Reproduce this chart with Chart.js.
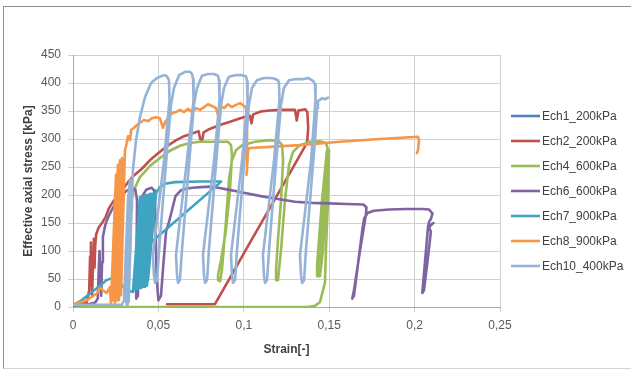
<!DOCTYPE html>
<html>
<head>
<meta charset="utf-8">
<script src="https://cdn.jsdelivr.net/npm/chart.js@4.4.1/dist/chart.umd.min.js"></script>
<style>
  html, body { margin: 0; padding: 0; background: #ffffff; }
  #wrap { position: relative; width: 631px; height: 372px; }
  #frame { position: absolute; left: 3px; top: 6px; width: 630px; height: 363px;
           border-left: 1px solid #8f8f8f; border-top: 1px solid #8f8f8f; border-bottom: 1px solid #d4d4d4;
           box-sizing: border-box; pointer-events: none; }
  canvas { position: absolute; left: 0; top: 0; }
</style>
</head>
<body>
<div id="wrap">
  <canvas id="c" width="631" height="372"></canvas>
  <div id="frame"></div>
</div>
<script>
// ---------- data (strain [-], effective axial stress [kPa]) ----------
const seriesNames = ['Ech1_200kPa', 'Ech2_200kPa', 'Ech4_600kPa', 'Ech6_600kPa', 'Ech7_900kPa', 'Ech8_900kPa', 'Ech10_400kPa'];

const xTickValues = [0, 0.05, 0.1, 0.15, 0.2, 0.25];
const xTickLabels = ['0', '0,05', '0,1', '0,15', '0,2', '0,25'];
const yTickValues = [0, 50, 100, 150, 200, 250, 300, 350, 400, 450];

const ech1 = [[0,4],[0.004,5],[0.008,7]];

const ech2 = [[0,5],[0.004,6],[0.008,8],[0.0095,30],[0.0100,90],[0.0105,115],[0.0110,60],[0.0112,20],[0.0118,90],
  [0.0122,122],[0.0126,70],[0.0130,110],[0.0136,130],[0.0150,142],[0.0170,150],[0.0190,160],[0.0210,176],[0.0230,186],
  [0.0260,198],[0.0290,210],[0.0320,222],[0.0350,233],[0.0400,246],[0.0450,262],[0.0500,275],[0.0550,287],[0.0600,297],
  [0.0650,305],[0.0700,310],[0.0735,314],[0.0745,300],[0.0755,296],[0.0765,312],[0.0800,318],[0.0860,325],[0.0920,331],
  [0.0980,337],[0.1035,342],[0.1045,328],[0.1055,344],[0.1100,349],[0.1150,351],[0.1210,352],[0.1250,352],[0.1300,352],
  [0.1310,333],[0.1320,351],[0.1360,353],[0.1372,348],[0.1377,320],[0.1372,298],[0.1364,290],[0.1271,240],[0.1153,177],
  [0.1036,115],[0.0919,52],[0.0831,5],[0.0550,5]];

const ech4 = [[0,0],[0.0316,0],[0.0322,12],[0.0334,102],[0.0340,173],[0.0345,195],[0.0357,209],[0.0375,221],[0.0392,232],
  [0.0451,252],[0.0509,266],[0.0568,279],[0.0626,288],[0.0685,293],[0.0744,295],[0.0831,295],[0.0908,295],[0.0925,289],
  [0.0931,271],[0.0919,209],[0.0896,138],[0.0867,84],[0.0849,57],[0.0849,48],[0.0861,46],[0.0872,66],[0.0896,155],
  [0.0913,227],[0.0931,262],[0.0954,280],[0.0990,289],[0.1066,295],[0.1153,298],[0.1206,296],[0.1224,289],[0.1230,262],
  [0.1218,191],[0.1200,120],[0.1189,66],[0.1189,48],[0.1200,48],[0.1218,102],[0.1241,191],[0.1265,254],[0.1288,277],
  [0.1329,289],[0.1388,295],[0.1446,296],[0.1481,293],[0.1493,280],[0.1487,227],[0.1464,102],[0.1446,55],[0.1434,62],
  [0.1458,137],[0.1487,262],[0.1493,280],[0.1481,227],[0.1452,84],[0.1440,55],[0.1429,66],[0.1452,155],[0.1481,254],
  [0.1493,271],[0.1475,191],[0.1446,66],[0.1434,55],[0.1429,75],[0.1458,191],[0.1487,280],[0.1499,280],[0.1493,191],
  [0.1481,102],[0.1475,43],[0.1446,9],[0.1417,2],[0.1376,0],[0.0316,0]];

const ech6 = [[0,3],[0.008,4],[0.013,8],[0.0145,15],[0.0150,60],[0.0155,100],[0.0160,55],[0.0165,20],[0.0170,80],
  [0.0175,125],[0.0190,148],[0.0210,163],[0.0230,175],[0.0250,185],[0.0270,193],[0.0285,198],[0.0310,207],[0.0340,212],
  [0.0365,210],[0.0375,190],[0.0372,100],[0.0370,15],[0.0380,20],[0.0385,100],[0.0390,170],[0.0410,200],[0.0430,210],
  [0.0460,213],[0.0475,208],[0.0480,190],[0.0485,120],[0.0490,50],[0.0500,12],[0.0515,20],[0.0530,80],[0.0545,135],
  [0.0565,155],[0.0585,180],[0.0600,198],[0.0630,208],[0.0660,211],[0.0700,213],[0.0750,214],[0.0800,215],[0.0850,213],
  [0.0900,210],[0.0950,207],[0.1000,204],[0.1100,198],[0.1200,193],[0.1300,188],[0.1400,186],[0.1500,185],[0.1600,184],
  [0.1700,183],[0.1718,178],[0.1715,165],[0.1680,100],[0.1645,30],[0.1635,15],[0.1645,20],[0.1670,80],[0.1695,140],
  [0.1705,158],[0.1725,168],[0.1760,172],[0.1850,174],[0.1950,175],[0.2050,175],[0.2085,174],[0.2105,167],[0.2095,157],
  [0.2085,152],[0.2080,146],[0.2075,130],[0.2055,60],[0.2045,25],[0.2055,30],[0.2075,80],[0.2090,120],[0.2095,135],
  [0.2085,142],[0.2100,148],[0.2110,150],[0.2095,146]];

const ech7 = [[0,3],[0.005,12],[0.010,24],[0.015,36],[0.0197,48],[0.023,52],[0.027,45],[0.031,30],[0.0351,27],[0.0392,196],
  [0.0363,30],[0.0404,198],[0.0375,32],[0.0416,198],[0.0386,34],[0.0427,200],[0.0398,34],[0.0439,200],[0.0410,36],
  [0.0451,202],[0.0422,36],[0.0463,202],[0.0433,38],[0.0474,204],[0.0439,48],[0.0486,204],[0.0509,214],[0.0539,220],
  [0.0597,223],[0.0744,224],[0.0867,224],[0.0849,219],[0.0451,114]];

const ech8 = [[0,4],[0.004,8],[0.008,12],[0.0139,24],[0.0158,34],[0.0175,30],[0.0197,25],[0.0217,36],[0.0222,4],
  [0.0252,236],[0.0234,12],[0.0263,254],[0.0246,7],[0.0275,262],[0.0258,12],[0.0287,266],[0.0269,12],[0.0299,262],
  [0.0281,21],[0.0304,280],[0.0310,286],[0.0322,305],[0.0334,298],[0.0340,316],[0.0357,320],[0.0375,325],[0.0392,329],
  [0.0416,334],[0.0439,332],[0.0463,337],[0.0486,339],[0.0509,337],[0.0527,320],[0.0539,330],[0.0556,337],[0.0580,346],
  [0.0603,348],[0.0626,352],[0.0650,348],[0.0673,354],[0.0697,348],[0.0720,355],[0.0744,352],[0.0767,357],[0.0790,362],
  [0.0814,359],[0.0837,355],[0.0849,343],[0.0861,359],[0.0884,355],[0.0908,362],[0.0931,357],[0.0954,361],[0.0978,364],
  [0.1001,359],[0.1013,355],[0.1019,316],[0.1019,245],[0.1016,236],[0.1022,262],[0.1025,280],[0.1036,284],[0.1329,289],
  [0.1563,295],[0.1797,300],[0.2020,304],[0.2026,298],[0.2020,280],[0.2014,275]];

const ech10 = [[0,4],[0.0158,4],[0.0287,4],[0.0299,12],[0.0310,102],[0.0322,191],[0.0334,227],[0.0322,120],[0.0310,12],
  [0.0316,2],[0.0328,102],[0.0340,191],[0.0334,150],[0.0320,30],[0.0326,10],[0.0340,150],[0.0351,245],[0.0369,298],
  [0.0392,339],[0.0422,375],[0.0457,400],[0.0492,409],[0.0533,414],[0.0550,412],[0.0562,405],
  [0.0565,370],[0.0533,262],[0.0492,155],[0.0468,93],[0.0474,57],[0.0480,43],[0.0492,48],[0.0504,102],[0.0527,191],
  [0.0556,298],[0.0574,361],[0.0591,391],[0.0621,414],[0.0656,420],[0.0685,420],[0.0697,416],
  [0.0703,407],[0.0706,370],[0.0667,262],[0.0626,155],[0.0603,93],[0.0609,57],[0.0615,43],[0.0626,48],[0.0638,102],
  [0.0662,191],[0.0691,298],[0.0708,361],[0.0726,391],[0.0755,413],[0.0790,416],[0.0826,416],[0.0849,413],
  [0.0855,405],[0.0858,370],[0.0826,262],[0.0785,155],[0.0761,93],[0.0767,57],[0.0773,43],[0.0785,48],[0.0796,102],
  [0.0820,191],[0.0849,298],[0.0867,361],[0.0884,391],[0.0913,411],[0.0949,414],[0.0990,414],[0.1013,412],
  [0.1019,403],[0.1022,370],[0.0990,262],[0.0949,155],[0.0925,93],[0.0931,57],[0.0937,43],[0.0949,48],[0.0960,102],
  [0.0984,191],[0.1013,298],[0.1030,361],[0.1048,391],[0.1077,405],[0.1118,409],[0.1153,409],[0.1177,408],[0.1200,405],
  [0.1206,400],[0.1209,370],[0.1177,262],[0.1136,155],[0.1112,93],[0.1118,57],[0.1124,43],[0.1136,48],[0.1148,102],
  [0.1171,191],[0.1200,298],[0.1218,361],[0.1235,391],[0.1265,405],[0.1306,407],[0.1353,407],[0.1376,409],[0.1388,407],
  [0.1405,404],[0.1417,398],[0.1420,370],[0.1394,262],[0.1353,155],[0.1329,93],[0.1335,57],[0.1341,43],[0.1353,48],
  [0.1364,102],[0.1388,191],[0.1417,298],[0.1429,355],[0.1434,368],[0.1446,370],[0.1458,373],[0.1475,371],[0.1493,374]];

const seriesData = [ech1, ech2, ech4, ech6, ech7, ech8, ech10];
const seriesColors = ['#4F81BD', '#C0504D', '#9BBB59', '#8064A2', '#3FA4C2', '#F79646', '#95B3D7'];

// ---------- chart ----------
const FONT = '"Liberation Sans", Arial, sans-serif';
const datasets = seriesNames.map((name, i) => ({
  label: name,
  data: seriesData[i],
  showLine: true,
  borderColor: seriesColors[i],
  backgroundColor: seriesColors[i],
  borderWidth: 2.6,
  pointRadius: 0,
  pointHoverRadius: 0,
  tension: 0,
  borderJoinStyle: 'round',
  borderCapStyle: 'round',
  order: seriesNames.length - i
}));

const sideLegend = {
  id: 'sideLegend',
  afterDraw(chart) {
    const ctx = chart.ctx;
    ctx.save();
    ctx.font = '12px ' + FONT;
    ctx.textBaseline = 'middle';
    ctx.textAlign = 'left';
    chart.data.datasets.forEach((ds, i) => {
      const y = 116 + i * 25;
      ctx.strokeStyle = ds.borderColor;
      ctx.lineWidth = 2.6;
      ctx.beginPath();
      ctx.moveTo(511, y);
      ctx.lineTo(540, y);
      ctx.stroke();
      ctx.fillStyle = '#404040';
      ctx.fillText(ds.label, 542, y + 0.5);
    });
    ctx.restore();
  }
};

new Chart(document.getElementById('c'), {
  type: 'scatter',
  data: { datasets },
  options: {
    responsive: false,
    animation: false,
    devicePixelRatio: 1,
    layout: { padding: { left: 0, right: 131, top: 55, bottom: 0 } },
    plugins: { legend: { display: false }, tooltip: { enabled: false } },
    scales: {
      x: {
        type: 'linear', min: 0, max: 0.25,
        afterBuildTicks: s => { s.ticks = xTickValues.map(v => ({ value: v })); },
        afterFit: s => { s.height = 65; },
        ticks: { callback: (v, i) => xTickLabels[i], font: { family: FONT, size: 12 }, color: '#595959', padding: 6, maxRotation: 0, autoSkip: false },
        grid: { color: '#cfcfcf', tickLength: 5, lineWidth: 1 },
        border: { color: '#a8a8a8' },
        title: { display: true, text: 'Strain[-]', color: '#404040', font: { family: FONT, size: 12, weight: 'bold' }, padding: { top: 0, bottom: 15 } }
      },
      y: {
        type: 'linear', min: 0, max: 450,
        afterBuildTicks: s => { s.ticks = yTickValues.map(v => ({ value: v })); },
        afterFit: s => { s.width = 73; },
        ticks: { font: { family: FONT, size: 12 }, color: '#595959', padding: 7, autoSkip: false },
        grid: { color: '#cfcfcf', tickLength: 5, lineWidth: 1 },
        border: { color: '#a8a8a8' },
        title: { display: true, text: 'Effective axial stress [kPa]', color: '#404040', font: { family: FONT, size: 12, weight: 'bold' }, padding: { top: 21, bottom: 0 } }
      }
    }
  },
  plugins: [sideLegend]
});
</script>
</body>
</html>
